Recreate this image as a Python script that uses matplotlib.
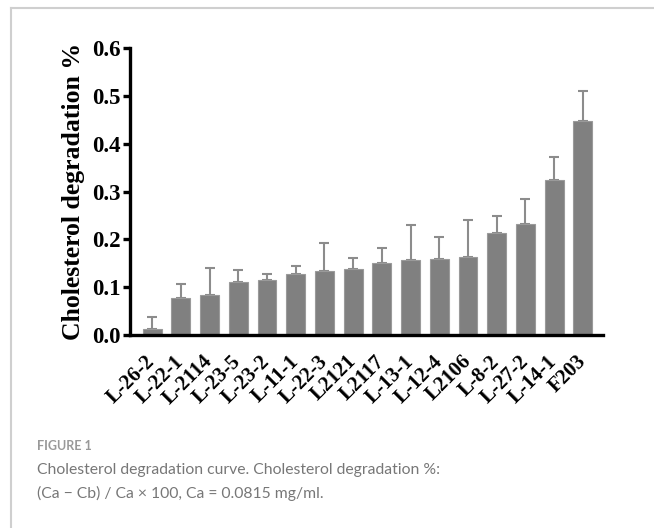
import matplotlib
matplotlib.use("Agg")
from matplotlib import pyplot as plt
from matplotlib.lines import Line2D

strains = ['L-26-2', 'L-22-1', 'L-2114', 'L-23-5', 'L-23-2', 'L-11-1',
           'L-22-3', 'L2121', 'L2117', 'L-13-1', 'L-12-4', 'L2106',
           'L-8-2', 'L-27-2', 'L-14-1', 'F203']
degradation = [0.012, 0.077, 0.083, 0.110, 0.114, 0.128, 0.133, 0.139,
               0.150, 0.156, 0.158, 0.164, 0.213, 0.233, 0.323, 0.447]
upper_err = [0.025, 0.029, 0.058, 0.026, 0.014, 0.017, 0.060, 0.021,
             0.031, 0.075, 0.047, 0.076, 0.035, 0.051, 0.049, 0.064]
y_ticks = [0.0, 0.1, 0.2, 0.3, 0.4, 0.5, 0.6]

W, H = 654, 528
fig = plt.figure(figsize=(W / 100, H / 100), dpi=100)

# light frame around the figure panel
fig.add_artist(Line2D([11 / W, 653 / W], [1 - 8 / H, 1 - 8 / H],
                      color='#cfcfcf', lw=1.5, transform=fig.transFigure))
fig.add_artist(Line2D([11 / W, 11 / W], [0, 1 - 8 / H],
                      color='#cfcfcf', lw=1.5, transform=fig.transFigure))

ax = fig.add_axes([130 / W, 1 - 335 / H, 473 / W, 287 / H])
x = list(range(len(strains)))
ax.bar(x, degradation, width=0.66, color='#808080', edgecolor='#9a9a9a',
       linewidth=0.8, zorder=2)
ax.errorbar(x, degradation, yerr=[[0] * len(x), upper_err], fmt='none',
            ecolor='#8c8c8c', elinewidth=1.5, capsize=3.6, capthick=1.5,
            zorder=1)

ax.set_xlim(-0.77, 15.7)
ax.set_ylim(0, 0.6)
ax.set_yticks(y_ticks)
ax.set_yticklabels([f'{v:.1f}' for v in y_ticks])
ax.set_xticks(x)
ax.set_xticklabels(strains, rotation=45, ha='right', va='center',
                   rotation_mode='anchor')

for s in ['top', 'right']:
    ax.spines[s].set_visible(False)
for s in ['left', 'bottom']:
    ax.spines[s].set_linewidth(2.4)

ax.tick_params(axis='y', length=5, width=2.4, pad=2)
ax.tick_params(axis='x', length=0, pad=17)
for lab in ax.get_yticklabels():
    lab.set_fontfamily('Liberation Serif')
    lab.set_fontweight('bold')
    lab.set_fontsize(16.5)
for lab in ax.get_xticklabels():
    lab.set_fontfamily('Liberation Serif')
    lab.set_fontweight('bold')
    lab.set_fontsize(15)

ax.set_ylabel('Cholesterol degradation %', fontfamily='Liberation Serif',
              fontweight='bold', fontsize=18.5, labelpad=5)

# caption
fig.text(37 / W, 1 - 446 / H, 'FIGURE 1', fontfamily='Lato', fontsize=9,
         fontweight='bold', color='#999999', va='center')
fig.text(37 / W, 1 - 470 / H,
         'Cholesterol degradation curve. Cholesterol degradation %:',
         fontfamily='Lato', fontsize=11.3, color='#777777', va='center')
fig.text(37 / W, 1 - 493 / H,
         '(Ca \u2212 Cb) / Ca \u00d7 100, Ca = 0.0815 mg/ml.',
         fontfamily='Lato', fontsize=11.3, color='#777777', va='center')

fig.savefig('out.png', dpi=100)
